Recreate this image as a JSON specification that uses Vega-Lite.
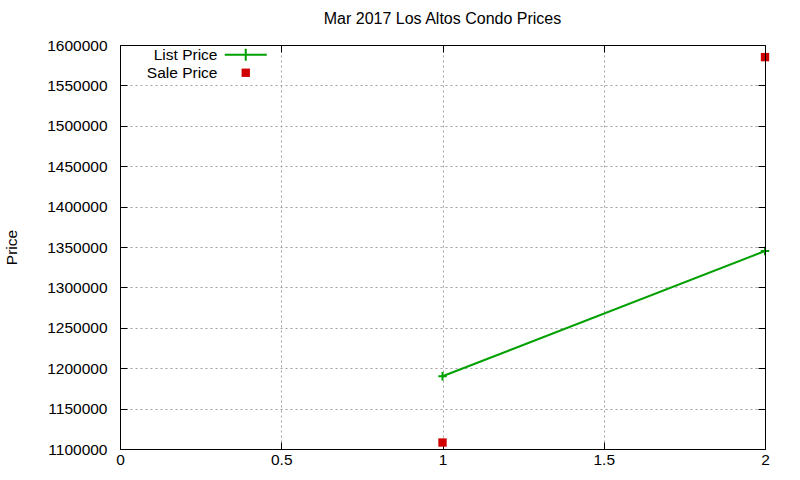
{
  "$schema": "https://vega.github.io/schema/vega-lite/v6.json",
  "autosize": "none",
  "width": 645,
  "height": 404,
  "padding": {"left": 120, "top": 45, "right": 35, "bottom": 31},
  "background": "white",
  "title": {
    "text": "Mar 2017 Los Altos Condo Prices",
    "font": "Liberation Sans",
    "fontSize": 16,
    "fontWeight": "normal",
    "color": "black",
    "anchor": "middle",
    "offset": 11
  },
  "config": {
    "view": {"stroke": null},
    "font": "Liberation Sans",
    "axis": {
      "labelFont": "Liberation Sans",
      "labelFontSize": 15.5,
      "labelColor": "black",
      "labelFlush": false,
      "titleFont": "Liberation Sans",
      "titleFontSize": 15.5,
      "titleFontWeight": "normal",
      "titleColor": "black",
      "domainColor": "black",
      "tickColor": "black",
      "tickSize": -7,
      "grid": true,
      "gridColor": "#a0a0a0",
      "gridDash": [2, 3],
      "gridWidth": 1
    }
  },
  "data": {
    "values": [
      {"x": 1, "price": 1190000, "series": "List Price"},
      {"x": 2, "price": 1345000, "series": "List Price"},
      {"x": 1, "price": 1108000, "series": "Sale Price"},
      {"x": 2, "price": 1585000, "series": "Sale Price"}
    ]
  },
  "encoding": {
    "x": {
      "field": "x",
      "type": "quantitative",
      "scale": {"domain": [0, 2], "nice": false, "zero": false}
    },
    "y": {
      "field": "price",
      "type": "quantitative",
      "scale": {"domain": [1100000, 1600000], "nice": false, "zero": false}
    }
  },
  "resolve": {"axis": {"x": "independent", "y": "independent"}},
  "layer": [
    {
      "transform": [{"filter": "datum.series === 'List Price'"}],
      "mark": {"type": "line", "strokeWidth": 2, "color": "#00a000"},
      "encoding": {
        "x": {
          "field": "x",
          "type": "quantitative",
          "axis": {"values": [0, 0.5, 1, 1.5, 2], "format": "~g", "title": null, "labelPadding": 10}
        },
        "y": {
          "field": "price",
          "type": "quantitative",
          "axis": {
            "values": [1100000, 1150000, 1200000, 1250000, 1300000, 1350000, 1400000, 1450000, 1500000, 1550000, 1600000],
            "format": "d",
            "title": "Price",
            "titleX": -109,
            "titleY": 202,
            "titleBaseline": "middle",
            "labelPadding": 20
          }
        }
      }
    },
    {
      "transform": [{"filter": "datum.series === 'List Price'"}],
      "mark": {"type": "point", "shape": "M-1,0L1,0M0,-1L0,1", "filled": false, "color": "#00a000", "opacity": 1, "strokeWidth": 2, "size": 70},
      "encoding": {
        "x": {"field": "x", "type": "quantitative", "axis": null},
        "y": {"field": "price", "type": "quantitative", "axis": null}
      }
    },
    {
      "transform": [{"filter": "datum.series === 'Sale Price'"}],
      "mark": {"type": "square", "opacity": 1, "size": 70},
      "encoding": {
        "x": {
          "field": "x",
          "type": "quantitative",
          "axis": {"orient": "top", "values": [0, 0.5, 1, 1.5, 2], "labels": false, "grid": false, "title": null, "zindex": 1}
        },
        "y": {
          "field": "price",
          "type": "quantitative",
          "axis": {
            "orient": "right",
            "values": [1100000, 1150000, 1200000, 1250000, 1300000, 1350000, 1400000, 1450000, 1500000, 1550000, 1600000],
            "labels": false,
            "grid": false,
            "title": null,
            "zindex": 1
          }
        },
        "color": {
          "field": "series",
          "type": "nominal",
          "scale": {"domain": ["List Price", "Sale Price"], "range": ["#00a000", "#d00000"]},
          "legend": {
            "title": null,
            "orient": "none",
            "legendX": 118,
            "legendY": 2,
            "labelFont": "Liberation Sans",
            "labelFontSize": 15.5,
            "labelColor": "black",
            "labelAlign": "right",
            "labelOffset": -36,
            "rowPadding": -2,
            "symbolType": {"expr": "datum.value === 'List Price' ? 'M-4.2,0L4.2,0M0,-1.2L0,1.2' : 'square'"},
            "symbolSize": {"expr": "datum.value === 'List Price' ? 100 : 70"},
            "symbolStrokeWidth": 2,
            "symbolStrokeColor": {"expr": "datum.value === 'List Price' ? '#00a000' : 'transparent'"}
          }
        }
      }
    }
  ]
}
